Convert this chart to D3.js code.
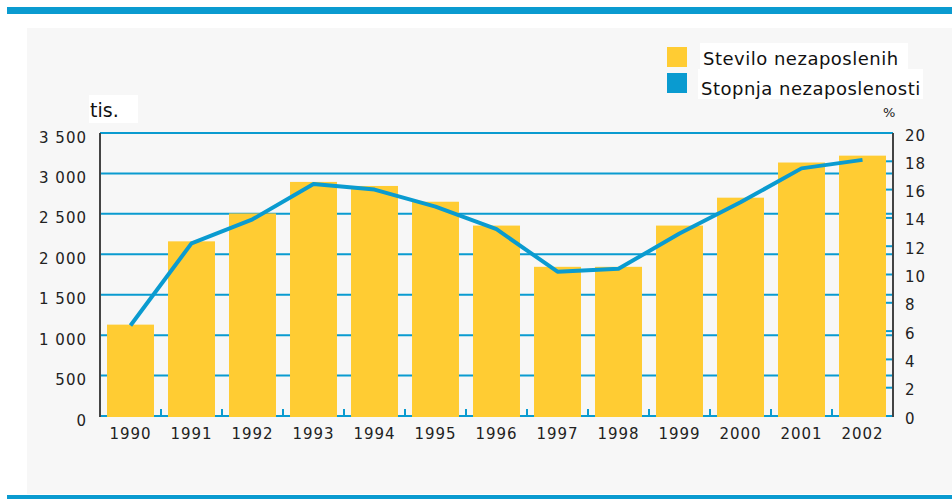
<!DOCTYPE html>
<html>
<head>
<meta charset="utf-8">
<script src="https://d3js.org/d3.v7.min.js"></script>
<style>
    body { margin: 0; background: #fff; }
    svg { display: block; font-family: "DejaVu Sans", sans-serif; }
</style>
</head>
<body>
<svg width="952" height="499"></svg>
<script>
// data
const years = ["1990", "1991", "1992", "1993", "1994", "1995", "1996", "1997", "1998", "1999", "2000", "2001", "2002"];
const unemployed = [1130, 2160, 2505, 2895, 2845, 2650, 2355, 1845, 1845, 2355, 2700, 3135, 3220]; // tis.
const rate = [6.4, 12.2, 13.9, 16.4, 16.0, 14.8, 13.2, 10.2, 10.4, 12.9, 15.1, 17.5, 18.1]; // %
const leftTicks = [0, 500, 1000, 1500, 2000, 2500, 3000, 3500];
const rightTicks = [0, 2, 4, 6, 8, 10, 12, 14, 16, 18, 20];
const legendItems = ["Stevilo nezaposlenih", "Stopnja nezaposlenosti"];

const blue = "#0a9bd0";
const yellow = "#ffcc33";

const w = 952, h = 499;
const marginLeft = 100, marginRight = 59, marginTop = 133, marginBottom = 83;

const svg = d3.select("svg");

// background panel and the blue bands
svg.append("rect").attr("x", 27).attr("y", 28).attr("width", w - 27).attr("height", 466).attr("fill", "#f7f7f7");
svg.append("rect").attr("x", 7).attr("y", 7).attr("width", w - 7).attr("height", 7).attr("fill", blue);
svg.append("rect").attr("x", 7).attr("y", 495).attr("width", w - 7).attr("height", 4).attr("fill", blue);

const xs = d3.scaleBand()
    .domain(years)
    .range([marginLeft, w - marginRight])
    .paddingInner(0.23)
    .paddingOuter(0.115);

const ysL = d3.scaleLinear().domain([0, 3500]).range([h - marginBottom, marginTop]);
const ysR = d3.scaleLinear().domain([0, 20]).range([h - marginBottom, marginTop]);

// grid lines
svg.append("g")
    .selectAll("line")
    .data(leftTicks)
    .enter()
    .append("line")
    .attr("x1", marginLeft)
    .attr("x2", w - marginRight)
    .attr("y1", function(d) { return ysL(d); })
    .attr("y2", function(d) { return ysL(d); })
    .attr("stroke", blue)
    .attr("stroke-width", 2);

// bottom ticks between categories
const step = xs.step();
svg.append("g")
    .selectAll("line")
    .data(years.slice(1))
    .enter()
    .append("line")
    .attr("x1", function(d) { return xs(d) - step * xs.paddingInner() / 2; })
    .attr("x2", function(d) { return xs(d) - step * xs.paddingInner() / 2; })
    .attr("y1", ysL(0))
    .attr("y2", ysL(0) - 7)
    .attr("stroke", blue)
    .attr("stroke-width", 2);

// right-axis ticks
svg.append("g")
    .selectAll("line")
    .data(rightTicks)
    .enter()
    .append("line")
    .attr("x1", w - marginRight - 7)
    .attr("x2", w - marginRight)
    .attr("y1", function(d) { return ysR(d); })
    .attr("y2", function(d) { return ysR(d); })
    .attr("stroke", blue)
    .attr("stroke-width", 2);

// bars
svg.append("g")
    .selectAll("rect")
    .data(unemployed)
    .enter()
    .append("rect")
    .attr("x", function(d, i) { return xs(years[i]); })
    .attr("y", function(d) { return ysL(d); })
    .attr("width", xs.bandwidth())
    .attr("height", function(d) { return ysL(0) - ysL(d) + 1; })
    .attr("fill", yellow);

// rate line
const line = d3.line()
    .x(function(d, i) { return xs(years[i]) + xs.bandwidth() / 2; })
    .y(function(d) { return ysR(d); });

svg.append("path")
    .datum(rate)
    .attr("d", line)
    .attr("fill", "none")
    .attr("stroke", blue)
    .attr("stroke-width", 4)
    .attr("stroke-linejoin", "round");

// axis lines
svg.append("line")
    .attr("x1", marginLeft).attr("x2", marginLeft)
    .attr("y1", marginTop).attr("y2", ysL(0) + 1)
    .attr("stroke", "#444").attr("stroke-width", 2);
svg.append("line")
    .attr("x1", w - marginRight).attr("x2", w - marginRight)
    .attr("y1", marginTop).attr("y2", ysL(0) + 1)
    .attr("stroke", "#444").attr("stroke-width", 2);

// tick labels
svg.append("g")
    .selectAll("text")
    .data(leftTicks)
    .enter()
    .append("text")
    .attr("x", 87)
    .attr("y", function(d) { return ysL(d) + 5; })
    .attr("text-anchor", "end")
    .attr("dominant-baseline", "middle")
    .attr("font-size", 15)
    .attr("letter-spacing", 1)
    .attr("fill", "#222")
    .text(function(d) { return d >= 1000 ? Math.floor(d / 1000) + " " + d3.format("03")(d % 1000) : d; });

svg.append("g")
    .selectAll("text")
    .data(rightTicks)
    .enter()
    .append("text")
    .attr("x", 905)
    .attr("y", function(d) { return ysR(d) + 3; })
    .attr("dominant-baseline", "middle")
    .attr("font-size", 15)
    .attr("letter-spacing", 1)
    .attr("fill", "#222")
    .text(function(d) { return d; });

svg.append("g")
    .selectAll("text")
    .data(years)
    .enter()
    .append("text")
    .attr("x", function(d) { return xs(d) + xs.bandwidth() / 2; })
    .attr("y", 434)
    .attr("text-anchor", "middle")
    .attr("dominant-baseline", "middle")
    .attr("font-size", 15)
    .attr("letter-spacing", 1)
    .attr("fill", "#222")
    .text(function(d) { return d; });

// units
svg.append("rect").attr("x", 89).attr("y", 95).attr("width", 49).attr("height", 28).attr("fill", "#fff");
svg.append("text").attr("x", 90).attr("y", 117).attr("font-size", 19).attr("fill", "#111").text("tis.");
svg.append("text").attr("x", 883).attr("y", 117).attr("font-size", 13).attr("fill", "#222").text("%");

// legend
const legend = svg.append("g")
    .selectAll("g")
    .data(legendItems)
    .enter()
    .append("g")
    .attr("transform", function(d, i) { return "translate(667," + (47 + i * 26) + ")"; });

legend.append("rect")
    .attr("x", function(d, i) { return i == 0 ? 33 : 31; })
    .attr("y", -4)
    .attr("width", function(d, i) { return i == 0 ? 208 : 225; })
    .attr("height", function(d, i) { return i == 0 ? 29 : 30; })
    .attr("fill", "#fff");
legend.append("rect")
    .attr("width", 20).attr("height", 20)
    .attr("fill", function(d, i) { return i == 0 ? yellow : blue; });
legend.append("text")
    .attr("x", function(d, i) { return i == 0 ? 36 : 34; })
    .attr("y", function(d, i) { return i == 0 ? 18 : 22; })
    .attr("font-size", 18)
    .attr("letter-spacing", 0.5)
    .attr("fill", "#111")
    .text(function(d) { return d; });
</script>
</body>
</html>
